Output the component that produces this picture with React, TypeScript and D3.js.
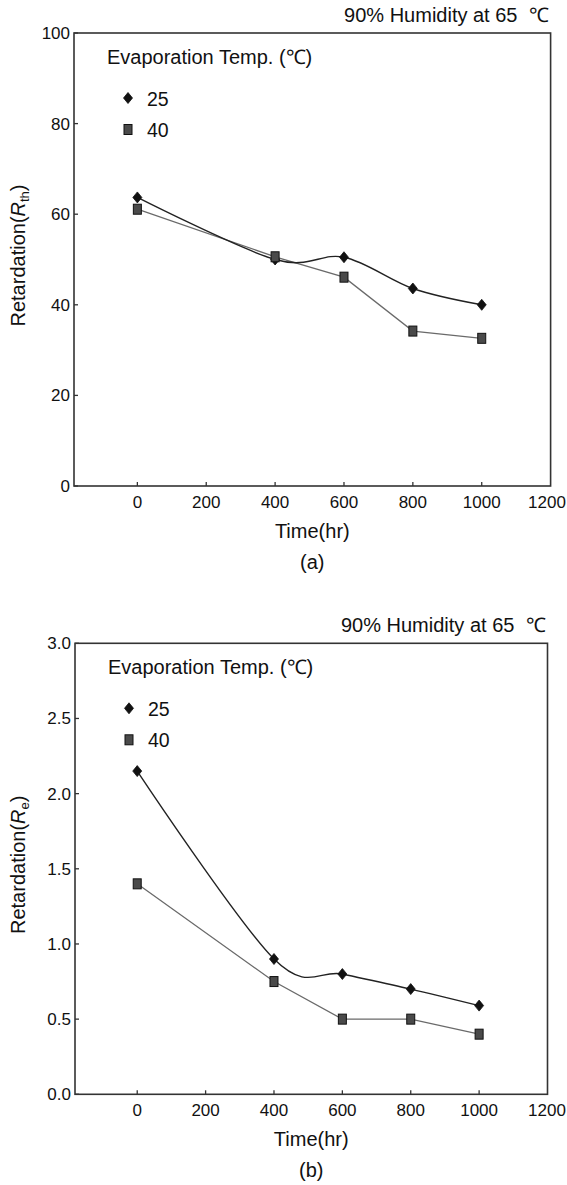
import React from "react";
import * as d3 from "d3";

const times = [0, 400, 600, 800, 1000];
const xTicks = [0, 200, 400, 600, 800, 1000, 1200];
const seriesNames = ["25", "40"];

const rthT25 = [63.7, 50.0, 50.5, 43.6, 40.0];
const rthT40 = [61.1, 50.6, 46.1, 34.2, 32.6];
const rthTicks = [0, 20, 40, 60, 80, 100];

const reT25 = [2.15, 0.9, 0.8, 0.7, 0.59];
const reT40 = [1.4, 0.75, 0.5, 0.5, 0.4];
const reTicks = [0, 0.5, 1.0, 1.5, 2.0, 2.5, 3.0];

const titleText = "90% Humidity at 65 \u00A0\u2103";
const legendTitle = "Evaporation Temp. (\u2103)";
const FONT = "'Liberation Sans', Arial, sans-serif";

type PanelProps = {
  top: number;
  bottom: number;
  left: number;
  right: number;
  xMin: number;
  yMax: number;
  yTicks: number[];
  fmt: (v: number) => string;
  s25: number[];
  s40: number[];
  ySub: string;
  caption: string;
};

function Panel(p: PanelProps) {
  const x = d3.scaleLinear().domain([p.xMin, 1200]).range([p.left, p.right]);
  const y = d3.scaleLinear().domain([0, p.yMax]).range([p.bottom, p.top]);
  const line25 = d3
    .line<number>()
    .x((_, i) => x(times[i]))
    .y((d) => y(d))
    .curve(d3.curveCardinal.tension(0));
  const line40 = d3
    .line<number>()
    .x((_, i) => x(times[i]))
    .y((d) => y(d));
  const cy = (p.top + p.bottom) / 2;
  const diamond = (cx: number, cyy: number, key: string) => (
    <path
      key={key}
      d={`M${cx},${cyy - 5.5}L${cx + 4.5},${cyy}L${cx},${cyy + 5.5}L${cx - 4.5},${cyy}Z`}
      fill="#111"
      stroke="#111"
      strokeWidth={0.8}
      strokeLinejoin="round"
    />
  );
  const square = (cx: number, cyy: number, key: string) => (
    <rect
      key={key}
      x={cx - 4}
      y={cyy - 5}
      width={8}
      height={10}
      fill="#4a4a4a"
      stroke="#111"
      strokeWidth={1}
    />
  );
  return (
    <g fontFamily={FONT} fill="#111">
      <text x={p.right - 2} y={p.top - 11} textAnchor="end" fontSize={20}>
        {titleText}
      </text>
      {/* legend */}
      <text x={p.left + 33} y={p.top + 31} fontSize={20}>
        {legendTitle}
      </text>
      {diamond(p.left + 54, p.top + 65, "ld")}
      <text x={p.left + 73} y={p.top + 72.5} fontSize={19.5}>
        {seriesNames[0]}
      </text>
      {square(p.left + 54, p.top + 96.5, "ls")}
      <text x={p.left + 73} y={p.top + 103.5} fontSize={19.5}>
        {seriesNames[1]}
      </text>
      {/* lines */}
      <path d={line40(p.s40) || ""} fill="none" stroke="#6a6a6a" strokeWidth={1.3} />
      <path d={line25(p.s25) || ""} fill="none" stroke="#222" strokeWidth={1.4} />
      {p.s25.map((v, i) => diamond(x(times[i]), y(v), "d" + i))}
      {p.s40.map((v, i) => square(x(times[i]), y(v), "s" + i))}
      {/* frame */}
      <rect
        x={p.left}
        y={p.top}
        width={p.right - p.left}
        height={p.bottom - p.top}
        fill="none"
        stroke="#333"
        strokeWidth={1.6}
      />
      {xTicks.map((t) => (
        <g key={"xt" + t}>
          {t < 1200 && (
            <line x1={x(t)} x2={x(t)} y1={p.bottom} y2={p.bottom - 4} stroke="#333" strokeWidth={1.3} />
          )}
          <text x={Math.min(x(t), 547)} y={p.bottom + 22} textAnchor="middle" fontSize={17}>
            {t}
          </text>
        </g>
      ))}
      {p.yTicks.map((t) => (
        <g key={"yt" + t}>
          <line x1={p.left} x2={p.left + 4} y1={y(t)} y2={y(t)} stroke="#333" strokeWidth={1.3} />
          <text x={p.left - 4} y={y(t) + 6} textAnchor="end" fontSize={17}>
            {p.fmt(t)}
          </text>
        </g>
      ))}
      <text x={(p.left + p.right) / 2} y={p.bottom + 52} textAnchor="middle" fontSize={20}>
        Time(hr)
      </text>
      <text x={(p.left + p.right) / 2} y={p.bottom + 83} textAnchor="middle" fontSize={20}>
        {p.caption}
      </text>
      <text
        transform={`translate(${25},${cy - 4}) rotate(-90)`}
        textAnchor="middle"
        fontSize={20}
      >
        Retardation(
        <tspan fontStyle="italic">R</tspan>
        <tspan fontSize={13} dy={4}>
          {p.ySub}
        </tspan>
        <tspan dy={-4}>)</tspan>
      </text>
    </g>
  );
}

export default function App() {
  return (
    <svg
      width={567}
      height={1185}
      style={{ position: "absolute", left: 0, top: 0, background: "#fff" }}
    >
      <rect width={567} height={1185} fill="#fff" />
      <Panel
        top={33}
        bottom={486}
        left={74}
        right={550.6}
        xMin={-184}
        yMax={100}
        yTicks={rthTicks}
        fmt={(v) => String(v)}
        s25={rthT25}
        s40={rthT40}
        ySub="th"
        caption="(a)"
      />
      <Panel
        top={643.3}
        bottom={1094.3}
        left={75}
        right={547.5}
        xMin={-182}
        yMax={3}
        yTicks={reTicks}
        fmt={(v) => v.toFixed(1)}
        s25={reT25}
        s40={reT40}
        ySub="e"
        caption="(b)"
      />
    </svg>
  );
}
